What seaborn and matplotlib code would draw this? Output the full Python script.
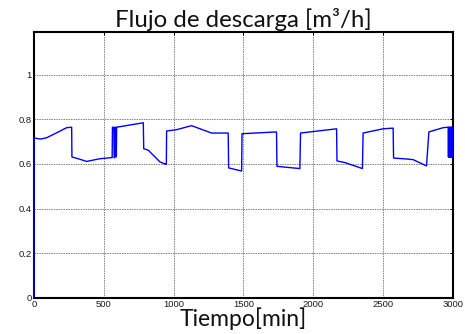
import matplotlib
matplotlib.use("Agg")
import matplotlib.pyplot as plt
import seaborn as sns
import pandas as pd

# Data
tiempo = [0, 0, 48, 91, 150, 234, 270, 272, 317, 377, 472, 556, 560,
          562, 572, 574, 580, 582, 588, 590, 592,
          783, 786, 819, 902, 945, 948, 950, 1021, 1129, 1272, 1391,
          1394, 1487, 1490, 1737, 1740, 1904, 1909, 2167, 2170, 2226,
          2352, 2357, 2500, 2572, 2575, 2668, 2715, 2811, 2828, 2930,
          2966, 2968, 2970, 2972, 2974, 2976, 2978, 2980, 2982, 2984,
          2986, 2988, 2990, 2992, 2994, 2996, 2998, 3000]
flujo = [0.0, 0.716, 0.711, 0.717, 0.735, 0.762, 0.764, 0.631, 0.623, 0.611, 0.623, 0.628, 0.628,
         0.764, 0.764, 0.628, 0.628, 0.764, 0.764, 0.632, 0.764,
         0.784, 0.668, 0.661, 0.609, 0.598, 0.598, 0.747, 0.753, 0.771, 0.738, 0.738,
         0.582, 0.568, 0.735, 0.743, 0.589, 0.579, 0.738, 0.757, 0.613, 0.606,
         0.579, 0.738, 0.757, 0.760, 0.626, 0.622, 0.619, 0.591, 0.743, 0.762,
         0.764, 0.631, 0.764, 0.631, 0.764, 0.631, 0.764, 0.631, 0.764, 0.631,
         0.764, 0.631, 0.764, 0.631, 0.764, 0.631, 0.764, 0.640]

x_ticks = [0, 500, 1000, 1500, 2000, 2500, 3000]
y_ticks = [0, 0.2, 0.4, 0.6, 0.8, 1.0]
y_tick_labels = ["0", "0.2", "0.4", "0.6", "0.8", "1"]
title = "Flujo de descarga [m³/h]"
xlabel = "Tiempo[min]"

df = pd.DataFrame({"t": tiempo, "q": flujo})

sns.set_style("white")
plt.rcParams["font.family"] = ["Liberation Sans", "DejaVu Sans"]

fig = plt.figure(figsize=(4.65, 3.34), dpi=100)
ax = fig.add_axes([0.073, 0.108, 0.901, 0.796])

sns.lineplot(data=df, x="t", y="q", sort=False, estimator=None,
             color="#0000ff", linewidth=1.0, ax=ax, zorder=4)
for ln in ax.lines:
    ln.set_clip_on(False)

ax.set_xlim(0, 3000)
ax.set_ylim(0, 1.19)
ax.set_xticks(x_ticks)
ax.set_xticklabels([str(v) for v in x_ticks])
ax.set_yticks(y_ticks)
ax.set_yticklabels(y_tick_labels)
ax.grid(True, color="#808080", linestyle=(0, (1.5, 1)), linewidth=0.7)
ax.tick_params(axis="both", which="both", direction="in", length=2.5, width=0.7,
               labelsize=6.8, pad=1.5, top=True, right=True, colors="black",
               labelcolor="#1a1a1a")
for s in ax.spines.values():
    s.set_visible(True)
    s.set_color("black")
    s.set_linewidth(1.5)
    s.set_zorder(3)

ax.set_title(title, fontsize=17.3, family=["Lato", "DejaVu Sans"], pad=4, color="#111111")
ax.set_xlabel(xlabel, fontsize=16.5, family=["Lato", "DejaVu Sans"], labelpad=-1, color="#111111")
ax.set_ylabel("")

fig.savefig("out.png", dpi=100)
